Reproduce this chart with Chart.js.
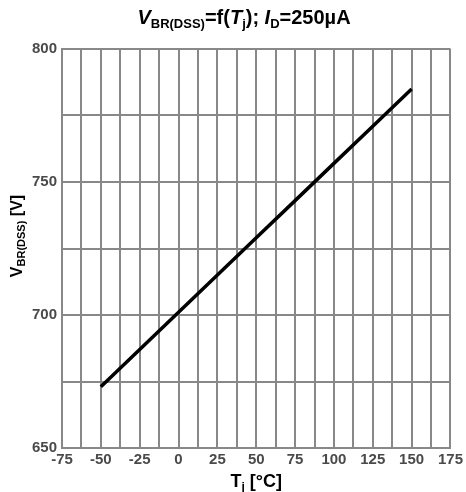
<!DOCTYPE html>
<html>
<head>
<meta charset="utf-8">
<script src="https://cdn.jsdelivr.net/npm/chart.js@4/dist/chart.umd.min.js"></script>
<style>
html,body{margin:0;padding:0;background:#fff;}
#wrap{width:466px;height:492px;position:relative;}
</style>
</head>
<body>
<div id="wrap"><canvas id="c" width="466" height="492"></canvas></div>
<script>
// Data
const tempC = [-50, -25, 0, 25, 50, 75, 100, 125, 150];
const vbrDss = [673, 687, 701, 715, 729, 743, 757, 771, 785];
const xTickLabels = [-75, -50, -25, 0, 25, 50, 75, 100, 125, 150, 175];
const yTickLabels = [650, 700, 750, 800];

const titleSegs = [
  {t:'V', i:true}, {t:'BR(DSS)', s:true}, {t:'=f('}, {t:'T', i:true}, {t:'j', s:true},
  {t:'); '}, {t:'I', i:true}, {t:'D', s:true}, {t:'=250µA'}
];
const yTitleSegs = [{t:'V'}, {t:'BR(DSS)', s:true}, {t:' [V]'}];
const xTitleSegs = [{t:'T'}, {t:'j', s:true}, {t:' [°C]'}];

const FAM = '"Liberation Sans", Arial, sans-serif';

function drawRich(ctx, segs, cx, cy, size, subSize, subOff) {
  const fontOf = s => 'bold ' + (s.i ? 'italic ' : '') + (s.s ? subSize : size) + 'px ' + FAM;
  let total = 0;
  segs.forEach(s => { ctx.font = fontOf(s); total += ctx.measureText(s.t).width; });
  let x = cx - total / 2;
  ctx.textBaseline = 'alphabetic';
  ctx.textAlign = 'left';
  segs.forEach(s => {
    ctx.font = fontOf(s);
    ctx.fillText(s.t, x, cy + (s.s ? subOff : 0));
    x += ctx.measureText(s.t).width;
  });
}

const richText = {
  id: 'richText',
  afterDraw(chart) {
    const ctx = chart.ctx;
    const a = chart.chartArea;
    ctx.save();
    ctx.fillStyle = '#000';
    drawRich(ctx, titleSegs, 244, 24, 20, 13, 4);
    drawRich(ctx, xTitleSegs, (a.left + a.right) / 2, 487, 18, 12, 4);
    ctx.translate(22, 236);
    ctx.rotate(-Math.PI / 2);
    drawRich(ctx, yTitleSegs, 0, 0, 16, 11, 3);
    ctx.restore();
  }
};

new Chart(document.getElementById('c'), {
  type: 'line',
  data: {
    datasets: [{
      data: tempC.map((t, i) => ({x: t, y: vbrDss[i]})),
      borderColor: '#000',
      borderWidth: 3.5,
      pointRadius: 0,
      tension: 0,
      fill: false
    }]
  },
  options: {
    responsive: false,
    animation: false,
    devicePixelRatio: 1,
    layout: {padding: {top: 49, right: 14, left: 0, bottom: 0}},
    plugins: {legend: {display: false}, title: {display: false}, tooltip: {enabled: false}},
    scales: {
      x: {
        type: 'linear',
        min: -75, max: 175,
        afterBuildTicks(scale) {
          const t = [];
          for (let v = -75; v <= 175; v += 12.5) t.push({value: v});
          scale.ticks = t;
        },
        afterFit(scale) { scale.height = 44; },
        ticks: {
          autoSkip: false, maxRotation: 0,
          padding: 3,
          color: '#4a4a4a',
          font: {family: FAM, size: 15, weight: 'bold'},
          callback: v => xTickLabels.includes(v) ? String(v) : ''
        },
        grid: {color: '#888', lineWidth: 2, drawTicks: false},
        border: {color: '#888', width: 2}
      },
      y: {
        type: 'linear',
        min: 650, max: 800,
        afterBuildTicks(scale) {
          const t = [];
          for (let v = 650; v <= 800; v += 25) t.push({value: v});
          scale.ticks = t;
        },
        afterFit(scale) { scale.width = 62; },
        ticks: {
          autoSkip: false,
          padding: 5,
          color: '#4a4a4a',
          font: {family: FAM, size: 15, weight: 'bold'},
          callback: v => yTickLabels.includes(v) ? String(v) : ''
        },
        grid: {color: '#888', lineWidth: 2, drawTicks: false},
        border: {color: '#888', width: 2}
      }
    }
  },
  plugins: [richText]
});
</script>
</body>
</html>
